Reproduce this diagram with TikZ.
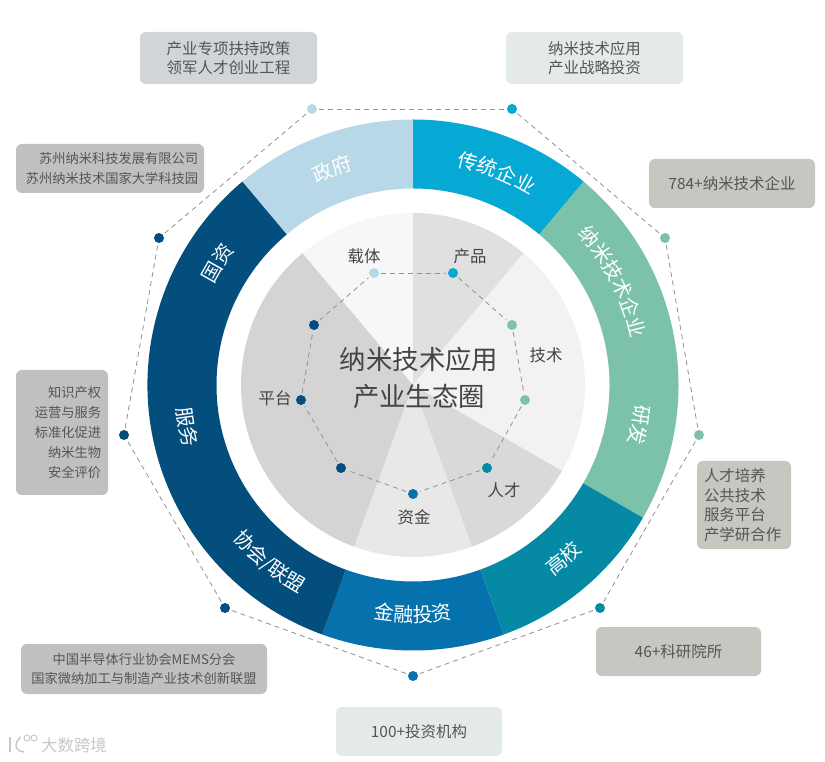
\documentclass[tikz,border=0pt]{standalone}
\usepackage{xcolor}
\usepackage{fontspec}
\setmainfont{Noto Sans CJK SC}
\usetikzlibrary{decorations.text}

\definecolor{govblue}{HTML}{B8D8E7}
\definecolor{cyanblue}{HTML}{06A9D3}
\definecolor{mintgreen}{HTML}{7CC2AA}
\definecolor{tealblue}{HTML}{0589A4}
\definecolor{midblue}{HTML}{0572AE}
\definecolor{navyblue}{HTML}{034E7C}
\definecolor{boxgray}{HTML}{C0C0C0}
\definecolor{boxsage}{HTML}{C4C8C0}
\definecolor{boxslate}{HTML}{CFD5D9}
\definecolor{boxpale}{HTML}{E4EBE6}
\definecolor{inktext}{HTML}{555555}
\definecolor{darktext}{HTML}{444444}

\newcommand{\ringfont}{\fontsize{17}{20}\selectfont}
\newcommand{\boxfont}{\fontsize{13.2}{16.8}\selectfont}

\begin{document}
\begin{tikzpicture}[x=0.03cm, y=0.03cm,
    infobox/.style={rectangle, rounded corners=5pt, inner sep=0pt, align=center, text=inktext, font=\boxfont},
    dot/.style={circle, inner sep=0pt, minimum size=0.3cm, outer sep=0.07cm},
    dashline/.style={draw=gray!85, line width=0.7pt, dash pattern=on 0.15cm off 0.12cm},
    slice/.style={font=\fontsize{14}{16}\selectfont, text=darktext, inner sep=0pt},
    topring/.style={decorate, decoration={text along path, text align=center, text color=white, text={|\ringfont|#1}}},
    botring/.style={decorate, decoration={text along path, text align=center, text color=white, text={|\ringfont|#1}}}]
    \useasboundingbox (0,0) rectangle (825,761);

    % outer ring and inner disc
    \begin{scope}[shift={(413,376)}]
        \foreach \from/\to/\col in {90/130/govblue, 50/90/cyanblue, -30/50/mintgreen, -70/-30/tealblue, -110/-70/midblue, 130/250/navyblue}
            \fill[\col] (\from:196.5) arc[start angle=\from, end angle=\to, radius=196.5] -- (\to:265.5) arc[start angle=\to, end angle=\from, radius=265.5] -- cycle;
        \foreach \from/\to/\col in {90/130/black!3, 50/90/black!12, -30/50/black!5, -70/-30/black!15, -110/-70/black!9, 130/250/black!17}
            \fill[\col] (0,0) -- (\from:172) arc[start angle=\from, end angle=\to, radius=172] -- cycle;

        \path[topring=政府] (130.5:223) arc[start angle=130.5, end angle=90.5, radius=223];
        \path[topring=传统企业] (93.5:223) arc[start angle=93.5, end angle=43.5, radius=223];
        \path[topring=纳米技术企业] (62.3:223) arc[start angle=62.3, end angle=-7.7, radius=223];
        \path[topring=研发] (10:223) arc[start angle=10, end angle=-30, radius=223];
        \path[topring=国资] (168:223) arc[start angle=168, end angle=128, radius=223];
        \path[botring=高校] (-69:237) arc[start angle=-69, end angle=-29, radius=237];
        \path[botring=金融投资] (-115:237) arc[start angle=-115, end angle=-65, radius=237];
        \path[botring=协会/联盟] (-159:237) arc[start angle=-159, end angle=-99, radius=237];
        \path[botring=服务] (-189.5:237) arc[start angle=-189.5, end angle=-149.5, radius=237];
    \end{scope}

    % outer dots
    \foreach \name/\x/\y/\col in {ogov/312/652/govblue, ocorp/512/652/cyanblue, onano/665/523/mintgreen, orand/699/326/mintgreen, ouni/600/153/tealblue, ofin/413/85/midblue, oalli/225/153/navyblue, oserv/124/326/navyblue, ostate/159/523/navyblue}
        \node[dot, fill=\col] (\name) at (\x,\y) {};
    \foreach \a/\b in {ogov/ocorp, ocorp/onano, onano/orand, orand/ouni, ouni/ofin, ofin/oalli, oalli/oserv, oserv/ostate, ostate/ogov}
        \draw[dashline] (\a) -- (\b);

    % inner dots
    \foreach \name/\x/\y/\col in {icar/374/488/govblue, iprod/453/488/cyanblue, itop/512/436/mintgreen, itech/525/361/mintgreen, itale/487/293/tealblue, icap/413/267/midblue, ilow/341/293/navyblue, iplat/301/361/navyblue, iup/314/436/navyblue}
        \node[dot, fill=\col] (\name) at (\x,\y) {};
    \foreach \a/\b in {icar/iprod, iprod/itop, itop/itech, itech/itale, itale/icap, icap/ilow, ilow/iplat, iplat/iup, iup/icar}
        \draw[dashline] (\a) -- (\b);

    % inner labels
    \node[slice] (carrier) at (364,505) {载体};
    \node[slice] (product) at (470,505) {产品};
    \node[slice] (tech) at (546,406) {技术};
    \node[slice] (platform) at (275,363) {平台};
    \node[slice] (talent) at (504,271) {人才};
    \node[slice] (capital) at (414,244) {资金};
    \node[font=\fontsize{22.5}{31}\selectfont, text=darktext, align=center, inner sep=0pt] (title) at (419,383) {纳米技术应用\\产业生态圈};

    % text boxes
    \node[infobox, fill=boxslate, minimum width=177*0.03cm, minimum height=52*0.03cm] (policy) at (228.5,703) {产业专项扶持政策\\领军人才创业工程};
    \node[infobox, fill=boxpale, minimum width=177*0.03cm, minimum height=52*0.03cm] (invest) at (594.5,703) {纳米技术应用\\产业战略投资};
    \node[infobox, fill=boxsage, minimum width=166*0.03cm, minimum height=49*0.03cm] (firms) at (732,577.5) {784+纳米技术企业};
    \node[infobox, fill=boxgray, minimum width=188*0.03cm, minimum height=49*0.03cm, text width=176*0.03cm, align=right, font=\fontsize{11.3}{16.8}\selectfont] (suzhou) at (110,592.5) {苏州纳米科技发展有限公司\\苏州纳米技术国家大学科技园};
    \node[infobox, fill=boxgray, minimum width=92*0.03cm, minimum height=125*0.03cm, text width=78*0.03cm, align=right, font=\fontsize{11.3}{16.9}\selectfont] (service) at (62,328.5) {知识产权\\运营与服务\\标准化促进\\纳米生物\\安全评价};
    \node[infobox, fill=boxsage, minimum width=94*0.03cm, minimum height=88*0.03cm, text width=80*0.03cm, align=left] (talentbox) at (744,256) {人才培养\\公共技术\\服务平台\\产学研合作};
    \node[infobox, fill=boxsage, minimum width=165*0.03cm, minimum height=49*0.03cm] (labs) at (678.5,109.5) {46+科研院所};
    \node[infobox, fill=boxpale, minimum width=166*0.03cm, minimum height=49*0.03cm] (funds) at (419,29.5) {100+投资机构};
    \node[infobox, fill=boxgray, minimum width=246*0.03cm, minimum height=50*0.03cm, font=\fontsize{11.3}{16.8}\selectfont] (alliance) at (144,92) {中国半导体行业协会MEMS分会\\国家微纳加工与制造产业技术创新联盟};

    % watermark
    \node[font=\fontsize{14}{16}\selectfont, text=black!22, inner sep=0pt] (mark) at (74,16) {大数跨境};
    \draw[black!22, line width=1.2pt] (10,24) -- (10,9);
    \draw[black!22, line width=1.2pt] (21,24) .. controls (14,19) and (14,10) .. (24,9);
    \draw[black!22, line width=0.8pt] (27,23) circle (3);
    \draw[black!22, line width=0.8pt] (34,23) circle (3);
\end{tikzpicture}
\end{document}
